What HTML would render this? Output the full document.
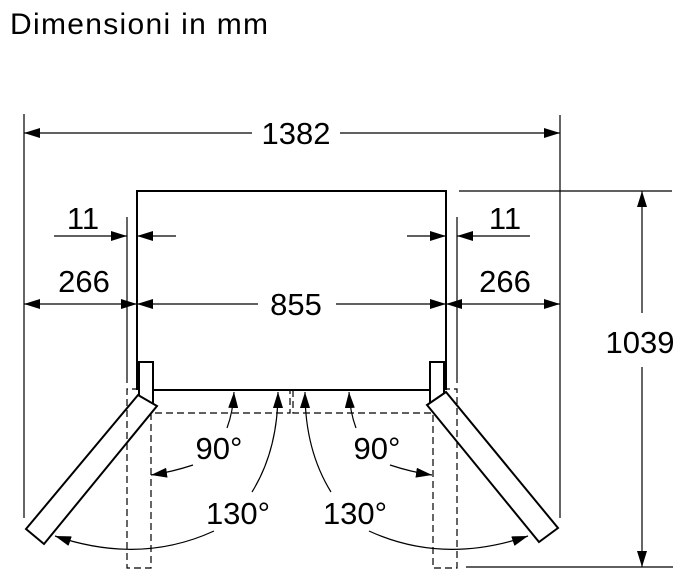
<!DOCTYPE html>
<html><head><style>body{margin:0;background:#fff}svg{display:block}</style></head><body>
<svg width="688" height="576" viewBox="0 0 688 576" xmlns="http://www.w3.org/2000/svg" font-family="Liberation Sans, Arial, sans-serif">
<defs>
<marker id="a" viewBox="0 0 16 10" refX="16" refY="5" markerWidth="16" markerHeight="10" markerUnits="userSpaceOnUse" orient="auto-start-reverse"><path d="M0,0L16,5L0,10z" fill="#000"/></marker>
</defs>
<text x="10" y="34" font-size="30" textLength="258">Dimensioni in mm</text>
<g stroke="#000" stroke-width="1.2" fill="none">
<line x1="24" y1="114" x2="24" y2="518"/>
<line x1="560" y1="115" x2="560" y2="518"/>
<line x1="24" y1="133" x2="252" y2="133" marker-start="url(#a)"/>
<line x1="340" y1="133" x2="560" y2="133" marker-end="url(#a)"/>
<line x1="127" y1="217" x2="127" y2="383"/>
<line x1="457" y1="217" x2="457" y2="383"/>
<line x1="54" y1="236" x2="127" y2="236" marker-end="url(#a)"/>
<line x1="176" y1="236" x2="137" y2="236" marker-end="url(#a)"/>
<line x1="407" y1="236" x2="446" y2="236" marker-end="url(#a)"/>
<line x1="530" y1="236" x2="457" y2="236" marker-end="url(#a)"/>
<line x1="24" y1="304" x2="137" y2="304" marker-start="url(#a)" marker-end="url(#a)"/>
<line x1="137" y1="304" x2="258" y2="304" marker-start="url(#a)"/>
<line x1="336" y1="304" x2="446" y2="304" marker-end="url(#a)"/>
<line x1="446" y1="304" x2="560" y2="304" marker-start="url(#a)" marker-end="url(#a)"/>
<line x1="459" y1="191" x2="672" y2="191"/>
<line x1="466" y1="567" x2="673" y2="567"/>
<line x1="642" y1="313" x2="642" y2="191" marker-end="url(#a)"/>
<line x1="642" y1="367" x2="642" y2="567" marker-end="url(#a)"/>
</g>
<g stroke="#000" stroke-width="2" fill="#fff">
<path d="M137,390V191H446V390" fill="none"/>
<line x1="153" y1="390" x2="430" y2="390"/>
<rect x="139" y="362" width="14" height="42"/>
<rect x="430" y="362" width="14" height="42"/>
<polygon points="138,395 157,406 44,544 26,529"/>
<polygon points="427,405 446,392 558,528 539,542"/>
</g>
<g stroke="#000" stroke-width="1.2" fill="none" stroke-dasharray="7,4">
<path d="M139,389H127V568H151V413H290V390"/>
<path d="M293,390V413H433V568H457V389H444"/>
</g>
<g stroke="#000" stroke-width="1.2" fill="none">
<path d="M227,428Q233,412 234,392" marker-end="url(#a)"/>
<path d="M252,492Q278,450 278,392" marker-end="url(#a)"/>
<path d="M193,465Q172,472 151,475" marker-end="url(#a)"/>
<path d="M214,531Q140,565 55,536" marker-end="url(#a)"/>
<path d="M356,428Q350,412 349,392" marker-end="url(#a)"/>
<path d="M331,492Q305,450 305,392" marker-end="url(#a)"/>
<path d="M390,465Q411,472 432,475" marker-end="url(#a)"/>
<path d="M369,531Q443,565 528,536" marker-end="url(#a)"/>
</g>
<g font-size="31" text-anchor="middle">
<text x="296" y="144">1382</text>
<text x="83" y="229">11</text>
<text x="505" y="229">11</text>
<text x="84" y="292">266</text>
<text x="505" y="292">266</text>
<text x="296" y="315">855</text>
<text x="640" y="353">1039</text>
<text x="219" y="459">90°</text>
<text x="377" y="459">90°</text>
<text x="238" y="524">130°</text>
<text x="355" y="524">130°</text>
</g>
</svg>
</body></html>
